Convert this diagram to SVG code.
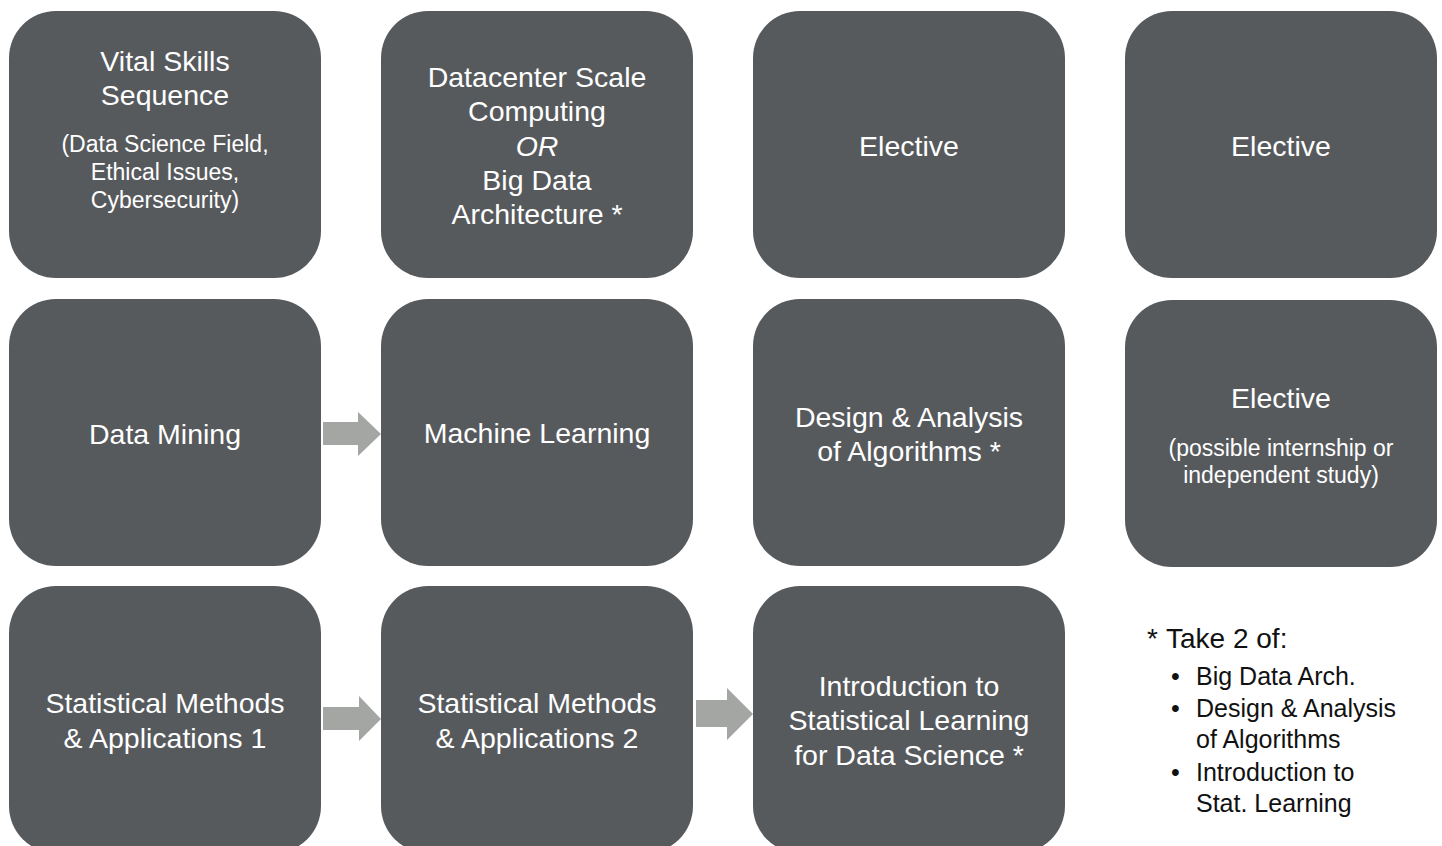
<svg xmlns="http://www.w3.org/2000/svg" width="1442" height="846" viewBox="0 0 1442 846">
<style>
.box{fill:#575a5d}
.t{font-family:"Liberation Sans",Arial,Helvetica,sans-serif;fill:#ffffff;text-anchor:middle;font-size:28.5px}
.s{font-size:23px}
.arrow{fill:#a4a6a4}
.lg{font-family:"Liberation Sans",Arial,Helvetica,sans-serif;fill:#111111;font-size:25px}
.lh{font-size:28px}
</style>
<rect width="1442" height="846" fill="#ffffff"/>
<g id="vital-skills">
<rect class="box" x="9" y="11" width="312" height="267" rx="47"/>
<text class="t" x="165" y="71">Vital Skills</text>
<text class="t" x="165" y="105">Sequence</text>
<text class="t s" x="165" y="152">(Data Science Field,</text>
<text class="t s" x="165" y="180">Ethical Issues,</text>
<text class="t s" x="165" y="208">Cybersecurity)</text>
</g>
<g id="datacenter">
<rect class="box" x="381" y="11" width="312" height="267" rx="47"/>
<text class="t" x="537" y="87">Datacenter Scale</text>
<text class="t" x="537" y="121">Computing</text>
<text class="t" x="537" y="156" font-style="italic">OR</text>
<text class="t" x="537" y="190">Big Data</text>
<text class="t" x="537" y="224">Architecture *</text>
</g>
<g id="elective-1">
<rect class="box" x="753" y="11" width="312" height="267" rx="47"/>
<text class="t" x="909" y="156">Elective</text>
</g>
<g id="elective-2">
<rect class="box" x="1125" y="11" width="312" height="267" rx="47"/>
<text class="t" x="1281" y="156">Elective</text>
</g>
<g id="data-mining">
<rect class="box" x="9" y="299" width="312" height="267" rx="47"/>
<text class="t" x="165" y="444">Data Mining</text>
</g>
<g id="machine-learning">
<rect class="box" x="381" y="299" width="312" height="267" rx="47"/>
<text class="t" x="537" y="443">Machine Learning</text>
</g>
<g id="design-analysis">
<rect class="box" x="753" y="299" width="312" height="267" rx="47"/>
<text class="t" x="909" y="427">Design &amp; Analysis</text>
<text class="t" x="909" y="461">of Algorithms *</text>
</g>
<g id="elective-3">
<rect class="box" x="1125" y="300" width="312" height="267" rx="47"/>
<text class="t" x="1281" y="408">Elective</text>
<text class="t s" x="1281" y="456">(possible internship or</text>
<text class="t s" x="1281" y="483">independent study)</text>
</g>
<g id="stat-methods-1">
<rect class="box" x="9" y="586" width="312" height="267" rx="47"/>
<text class="t" x="165" y="713">Statistical Methods</text>
<text class="t" x="165" y="748">&amp; Applications 1</text>
</g>
<g id="stat-methods-2">
<rect class="box" x="381" y="586" width="312" height="267" rx="47"/>
<text class="t" x="537" y="713">Statistical Methods</text>
<text class="t" x="537" y="748">&amp; Applications 2</text>
</g>
<g id="intro-stat-learning">
<rect class="box" x="753" y="586" width="312" height="267" rx="47"/>
<text class="t" x="909" y="696">Introduction to</text>
<text class="t" x="909" y="730">Statistical Learning</text>
<text class="t" x="909" y="765">for Data Science *</text>
</g>
<g id="connectors">
<polygon class="arrow" points="323,422 358,422 358,412 381,434 358,456 358,445 323,445"/>
<polygon class="arrow" points="323,707 359,707 359,696 381,719 359,741 359,730 323,730"/>
<polygon class="arrow" points="696,700 727,700 727,688 753,714 727,740 727,727 696,727"/>
</g>
<g id="legend">
<text class="lg lh" x="1147" y="648">*<tspan x="1166">Take 2 of:</tspan></text>
<text class="lg" x="1171" y="685">•</text>
<text class="lg" x="1196" y="685">Big Data Arch.</text>
<text class="lg" x="1171" y="717">•</text>
<text class="lg" x="1196" y="717">Design &amp; Analysis</text>
<text class="lg" x="1196" y="748">of Algorithms</text>
<text class="lg" x="1171" y="781">•</text>
<text class="lg" x="1196" y="781">Introduction to</text>
<text class="lg" x="1196" y="812">Stat. Learning</text>
</g>
</svg>
